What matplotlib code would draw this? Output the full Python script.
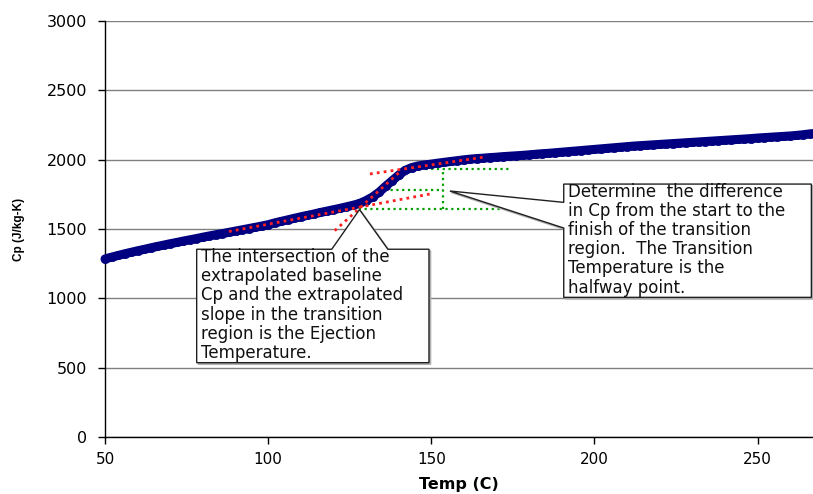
import matplotlib
matplotlib.use("Agg")
import matplotlib.pyplot as plt
from matplotlib.patches import Polygon

# ---- data ----
temp = [50, 52, 54, 56, 58, 60, 62, 64, 66, 68, 70, 72, 74, 76, 78, 80, 82, 84, 86, 88,
        90, 92, 94, 96, 98, 100, 102, 104, 106, 108, 110, 112, 114, 116, 118, 120, 122, 124,
        126, 128, 130, 132, 134, 136, 138, 140, 142, 144, 146, 148, 150, 152, 154, 156, 158,
        160, 162, 164, 166, 168, 170, 172, 174, 176, 178, 180, 182, 184, 186, 188, 190, 192,
        194, 196, 198, 200, 202, 204, 206, 208, 210, 212, 214, 216, 218, 220, 222, 224, 226,
        228, 230, 232, 234, 236, 238, 240, 242, 244, 246, 248, 250, 252, 254, 256, 258, 260,
        262, 264, 266, 268]
cp = [1284, 1297, 1309, 1321, 1332, 1343, 1353, 1364, 1374, 1384, 1394, 1403, 1413, 1422,
      1431, 1441, 1450, 1459, 1467, 1476, 1485, 1494, 1503, 1512, 1521, 1531, 1544, 1555,
      1566, 1577, 1588, 1598, 1608, 1619, 1629, 1639, 1649, 1660, 1671, 1684, 1705, 1731,
      1765, 1808, 1848, 1888, 1923, 1943, 1955, 1962, 1968, 1975, 1981, 1987, 1993, 1999,
      2004, 2008, 2011, 2015, 2018, 2022, 2025, 2028, 2031, 2035, 2039, 2043, 2046, 2050,
      2054, 2058, 2062, 2066, 2070, 2074, 2078, 2082, 2086, 2090, 2094, 2098, 2101, 2104,
      2107, 2110, 2113, 2116, 2119, 2122, 2125, 2128, 2131, 2134, 2137, 2140, 2143, 2146,
      2149, 2152, 2156, 2159, 2162, 2165, 2168, 2171, 2175, 2180, 2186, 2190]

# extrapolation lines (red dotted): (T start, T end), (Cp start, Cp end)
base_low_t = [88, 149.5]
base_low_cp = [1482, 1752]
trans_t = [120.4, 140.5]
trans_cp = [1488, 1915]
base_high_t = [131.2, 166.9]
base_high_cp = [1897, 2021]

# green dotted construction lines
cp_start, cp_mid, cp_end = 1644, 1784, 1932
green_start_t = [126, 171]
green_mid_t = [134, 153.5]
green_end_t = [143, 174]
green_vert_t = 153.5

xticks = [50, 100, 150, 200, 250]
yticks = [0, 500, 1000, 1500, 2000, 2500, 3000]

text1 = ("The intersection of the\nextrapolated baseline\nCp and the extrapolated\n"
         "slope in the transition\nregion is the Ejection\nTemperature.")
text2 = ("Determine  the difference\nin Cp from the start to the\nfinish of the transition\n"
         "region.  The Transition\nTemperature is the\nhalfway point.")

# ---- figure ----
fig = plt.figure(figsize=(8.13, 4.94), dpi=100)
ax = fig.add_axes([105 / 813, 1 - 437 / 494, 1 - 105 / 813, (437 - 21) / 494])
ax.set_xlim(50, 267)
ax.set_ylim(0, 3000)

ax.set_yticks(yticks)
ax.set_xticks(xticks)
ax.yaxis.grid(True, color="#808080", lw=1)
ax.set_axisbelow(True)
for s in ["top", "right"]:
    ax.spines[s].set_visible(False)
for s in ["left", "bottom"]:
    ax.spines[s].set_color("black")
    ax.spines[s].set_linewidth(1)
ax.tick_params(axis="y", direction="out", length=5, width=1, labelsize=11.5, pad=8)
ax.tick_params(axis="x", direction="out", length=5, width=1, labelsize=11, pad=6)
for lab in ax.get_xticklabels() + ax.get_yticklabels():
    lab.set_family("DejaVu Sans")

ax.set_xlabel("Temp (C)", fontsize=11.5, fontweight="bold", family="DejaVu Sans", labelpad=7)
ax.set_ylabel("Cp (J/kg-K)", fontsize=8.5, fontweight="bold", family="Liberation Sans",
              labelpad=15)

# green construction lines (behind the data)
gkw = dict(color="#00a000", lw=1.6, ls=(0, (1, 1.6)), zorder=2)
ax.plot(green_start_t, [cp_start, cp_start], **gkw)
ax.plot(green_mid_t, [cp_mid, cp_mid], **gkw)
ax.plot(green_end_t, [cp_end, cp_end], **gkw)
ax.plot([green_vert_t, green_vert_t], [cp_start, cp_end], **gkw)

# data
ax.plot(temp, cp, ls="-", lw=6.5, color="#000080", marker="o", markersize=6,
        markerfacecolor="#000080", markeredgecolor="#000080", markeredgewidth=0.5,
        solid_capstyle="round", zorder=3, clip_on=False)

# red extrapolation lines
rkw = dict(color="#ff2020", lw=2, ls=(0, (1, 1.5)), zorder=4)
ax.plot(base_low_t, base_low_cp, **rkw)
ax.plot(trans_t, trans_cp, **rkw)
ax.plot(base_high_t, base_high_cp, **rkw)

# callouts (layout in data coordinates)
call1 = [(78.1, 1354), (119.5, 1354), (128.0, 1640), (136.7, 1354), (149.3, 1354),
         (149.3, 536), (78.1, 536)]
call2 = [(190.6, 1824), (266.5, 1824), (266.5, 1007), (190.6, 1007), (190.6, 1507),
         (155.7, 1774), (190.6, 1692)]
for pts in (call1, call2):
    sh = Polygon([(x + 0.5, y - 12) for x, y in pts], closed=True, fc="#b0b0b0",
                 ec="#b0b0b0", lw=1, zorder=5, clip_on=False)
    ax.add_patch(sh)
    p = Polygon(pts, closed=True, fc="white", ec="#202020", lw=1, zorder=6, clip_on=False)
    ax.add_patch(p)

ax.text(79.3, 952, text1, ha="left", va="center", fontsize=12, family="DejaVu Sans",
        linespacing=1.08, zorder=7, color="#111111")
ax.text(191.8, 1422, text2, ha="left", va="center", fontsize=12, family="DejaVu Sans",
        linespacing=1.08, zorder=7, color="#111111")

fig.savefig("out.png", dpi=100)
